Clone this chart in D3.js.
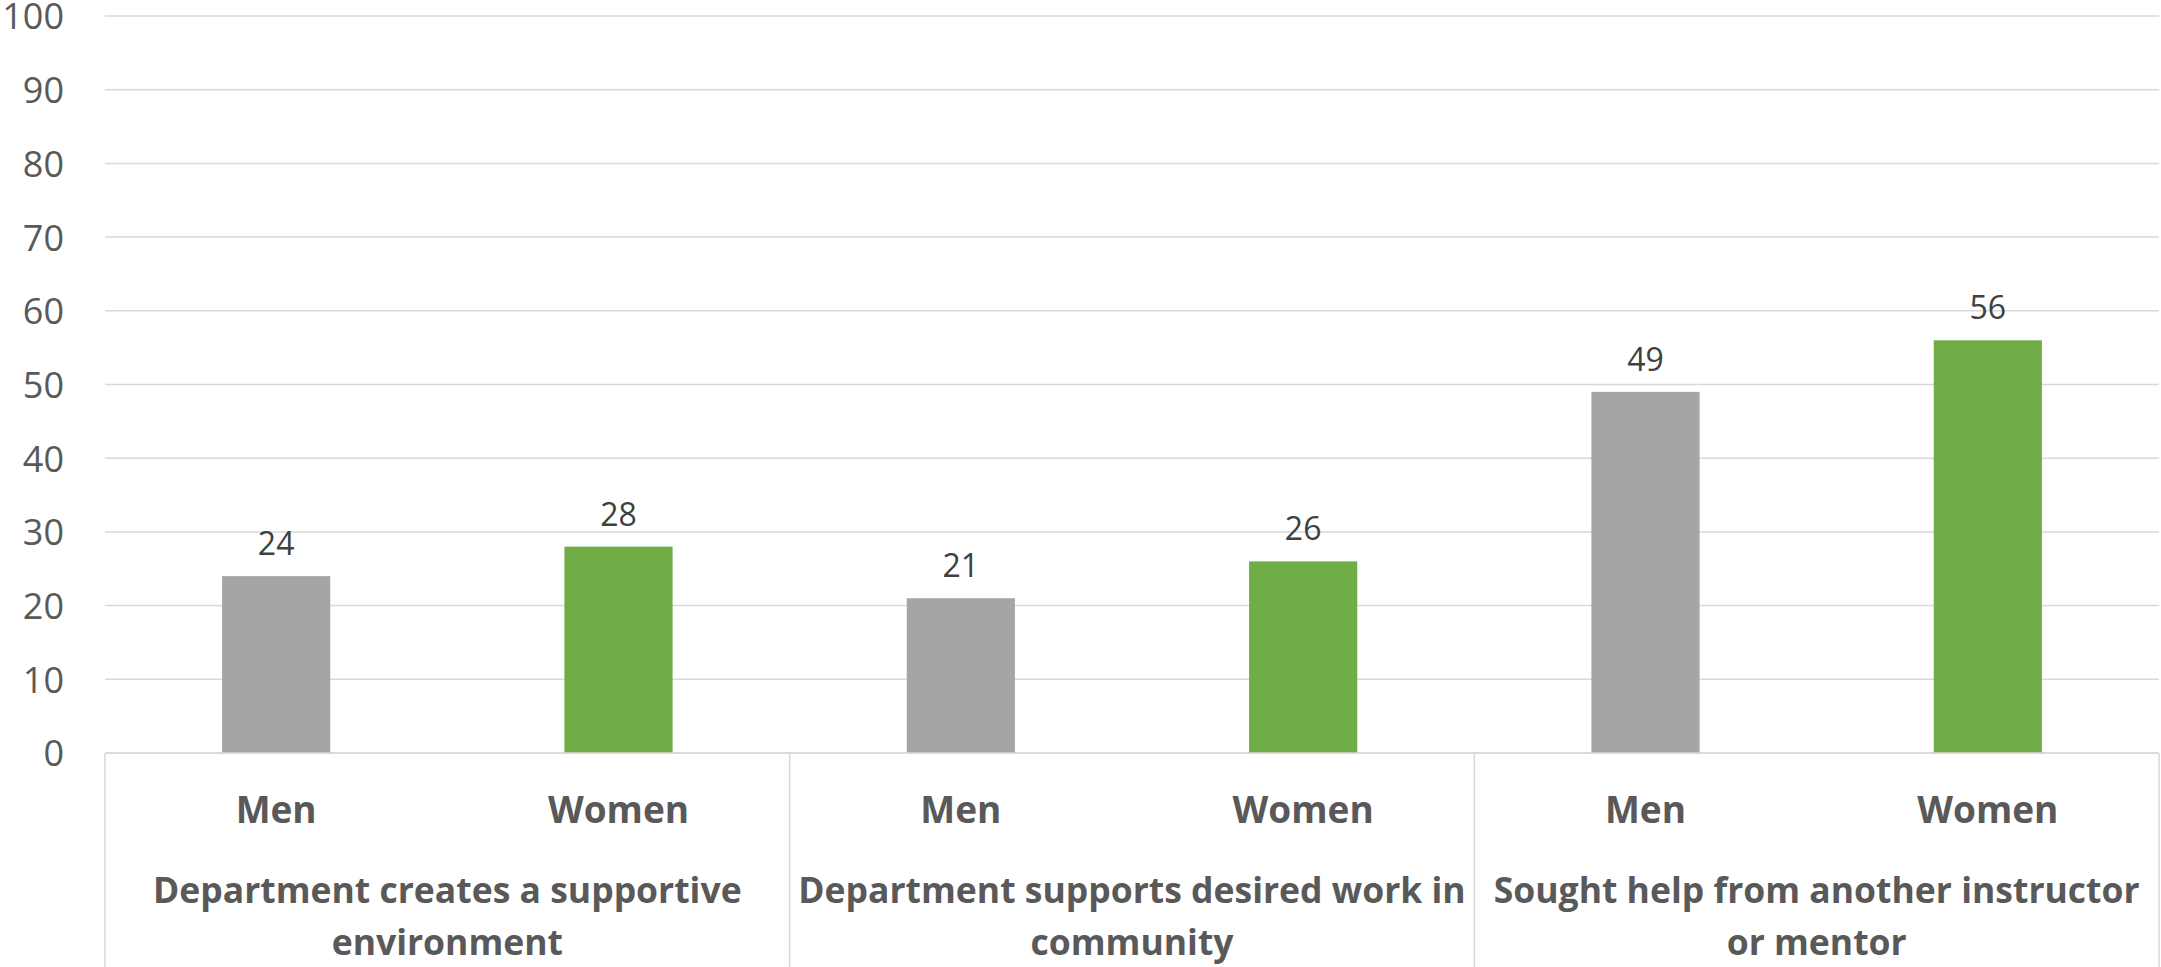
<!DOCTYPE html>
<html>
<head>
<meta charset="utf-8">
<script src="https://cdn.jsdelivr.net/npm/d3@7"></script>
<style>
  html, body { margin: 0; padding: 0; background: #fff; }
  svg { display: block; }
  text { font-family: "Open Sans", "Noto Sans", sans-serif; }
</style>
</head>
<body>
<svg id="chart" width="2161" height="967"></svg>
<script>
// Survey results: percent agreeing, by gender
const groups = [
  "Department creates a supportive environment",
  "Department supports desired work in community",
  "Sought help from another instructor or mentor"
];
const groupLines = [
  ["Department creates a supportive", "environment"],
  ["Department supports desired work in", "community"],
  ["Sought help from another instructor", "or mentor"]
];
const series = ["Men", "Women"];
const menValues = [24, 21, 49];
const womenValues = [28, 26, 56];
const yTicks = [0, 10, 20, 30, 40, 50, 60, 70, 80, 90, 100];
const seriesColors = ["#a5a5a5", "#70ad47"];

const svg = d3.select("#chart");
const W = 2161, H = 967;
const plotLeft = 105, plotRight = 2159, plotTop = 16, plotBottom = 753;

const x0 = d3.scaleBand().domain(groups).range([plotLeft, plotRight]).padding(0);
const x1 = d3.scaleBand().domain(series).range([0, x0.bandwidth()])
  .paddingInner(0.684).paddingOuter(0.342);
const y = d3.scaleLinear().domain([0, 100]).range([plotBottom, plotTop]);
const color = d3.scaleOrdinal().domain(series).range(seriesColors);

const rows = groups.map((g, i) => ({ group: g, values: [
  { key: "Men", value: menValues[i] },
  { key: "Women", value: womenValues[i] }
]}));

// Horizontal gridlines
svg.append("g")
  .selectAll("line")
  .data(yTicks)
  .join("line")
  .attr("x1", plotLeft).attr("x2", plotRight)
  .attr("y1", d => y(d)).attr("y2", d => y(d))
  .attr("stroke", "#d9d9d9").attr("stroke-width", 1.5);

// Y axis labels
const yAxis = d3.axisLeft(y).tickValues(yTicks).tickSize(0).tickPadding(0);
const yg = svg.append("g").attr("transform", "translate(64,0)").call(yAxis);
yg.select(".domain").remove();
yg.selectAll("text")
  .attr("font-size", 36)
  .attr("fill", "#595959")
  .attr("dy", "0.36em")
  .style("font-family", '"Open Sans", sans-serif');

// Bars
const gGroups = svg.append("g")
  .selectAll("g")
  .data(rows)
  .join("g")
  .attr("transform", d => `translate(${x0(d.group)},0)`);

gGroups.selectAll("rect")
  .data(d => d.values)
  .join("rect")
  .attr("x", d => x1(d.key))
  .attr("width", x1.bandwidth())
  .attr("y", d => y(d.value))
  .attr("height", d => y(0) - y(d.value))
  .attr("fill", d => color(d.key));

// Value labels
gGroups.selectAll("text.val")
  .data(d => d.values)
  .join("text")
  .attr("class", "val")
  .attr("x", d => x1(d.key) + x1.bandwidth() / 2)
  .attr("y", d => y(d.value) - 21)
  .attr("text-anchor", "middle")
  .attr("font-size", 32)
  .attr("fill", "#404040")
  .text(d => d.value);

// Category axis box
svg.append("line")
  .attr("x1", plotLeft).attr("x2", plotRight)
  .attr("y1", plotBottom).attr("y2", plotBottom)
  .attr("stroke", "#d9d9d9").attr("stroke-width", 1.5);

const seps = groups.map(g => x0(g)).concat([plotRight]);
svg.append("g")
  .selectAll("line")
  .data(seps)
  .join("line")
  .attr("x1", d => d).attr("x2", d => d)
  .attr("y1", plotBottom).attr("y2", H)
  .attr("stroke", "#d9d9d9").attr("stroke-width", 1.5);

// Series labels under bars
gGroups.selectAll("text.ser")
  .data(d => d.values)
  .join("text")
  .attr("class", "ser")
  .attr("x", d => x1(d.key) + x1.bandwidth() / 2)
  .attr("y", 823)
  .attr("text-anchor", "middle")
  .attr("font-size", 37)
  .attr("font-weight", "bold")
  .attr("fill", "#595959")
  .text(d => d.key);

// Group labels (two lines)
gGroups.each(function(d, i) {
  const t = d3.select(this).append("text")
    .attr("text-anchor", "middle")
    .attr("font-size", 35.5)
    .attr("font-weight", "bold")
    .attr("fill", "#595959");
  groupLines[i].forEach((line, j) => {
    t.append("tspan")
      .attr("x", x0.bandwidth() / 2)
      .attr("y", 903 + j * 52)
      .text(line);
  });
});
</script>
</body>
</html>
